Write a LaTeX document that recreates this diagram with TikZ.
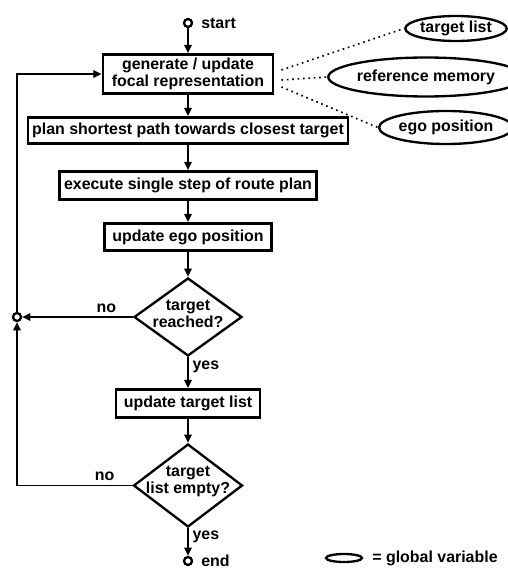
\documentclass[tikz,border=0pt]{standalone}
\usepackage{fontspec}
\setmainfont{Liberation Sans}
\usetikzlibrary{arrows.meta,positioning,shapes.geometric,calc}

\newlength{\pxu}
\setlength{\pxu}{0.03cm}
\newcommand{\flowfont}{\fontsize{13.6}{14.8}\selectfont\bfseries}

\tikzset{
    proc/.style={draw, line width=2.5pt, inner sep=0pt, align=center, font=\flowfont},
    decide/.style={draw, diamond, line width=2pt, inner sep=0pt},
    dtext/.style={font=\flowfont, align=center},
    glob/.style={draw, ellipse, line width=2pt, inner sep=0pt, font=\flowfont},
    term/.style={draw, circle, line width=2pt, inner sep=0pt, minimum size=8\pxu},
    lbl/.style={font=\flowfont},
    flow/.style={line width=1.2pt, -{Triangle[length=7pt,width=6.5pt]}},
    dots/.style={line width=1.4pt, dash pattern=on 1.4pt off 3.2pt}
}

\begin{document}
\begin{tikzpicture}[x=\pxu, y=-\pxu]
    \useasboundingbox (0,0) rectangle (507,571);

    % Main column
    \node[term, label={[lbl, label distance=4\pxu]right:start}] (start) at (188,23) {};
    \node[proc, minimum width=170\pxu, minimum height=39\pxu] (focal) at (188,74)
        {generate / update\\focal representation};
    \node[proc, minimum width=320\pxu, minimum height=26\pxu] (plan) at (188,130.5)
        {plan shortest path towards closest target};
    \node[proc, minimum width=257\pxu, minimum height=28\pxu] (exec) at (188,185.5)
        {execute single step of route plan};
    \node[proc, minimum width=167\pxu, minimum height=27\pxu] (egoupd) at (188,237)
        {update ego position};
    \node[decide, minimum width=108\pxu, minimum height=78\pxu,
        label={[dtext, yshift=3\pxu]center:{target\\reached?}}] (reached) at (188,317) {};
    \node[proc, minimum width=144\pxu, minimum height=28\pxu] (tlupd) at (188,403.5)
        {update target list};
    \node[decide, minimum width=109\pxu, minimum height=83\pxu,
        label={[dtext, yshift=4\pxu]center:{target\\list empty?}}] (empty) at (188,485.5) {};
    \node[term, label={[lbl, label distance=4\pxu]right:end}] (stop) at (188,561) {};

    % Loop junction
    \node[term] (junc) at (17,317) {};

    % Global variables
    \node[glob, minimum width=97\pxu, minimum height=25\pxu] (tlist) at (456,28.5) {target list};
    \node[glob, minimum width=156\pxu, minimum height=39\pxu] (refmem) at (426,77) {reference memory};
    \node[glob, minimum width=116\pxu, minimum height=33\pxu] (egopos) at (446,127.5) {ego position};

    % Legend
    \node[glob, minimum width=36\pxu, minimum height=8\pxu] (gvar) at (344,558) {};
    \node[lbl, right=5\pxu of gvar] (gvartxt) {= global variable};

    % Flow
    \draw[flow] (start) -- (focal);
    \draw[flow] (focal) -- (plan);
    \draw[flow] (plan) -- (exec);
    \draw[flow] (exec) -- (egoupd);
    \draw[flow] (egoupd) -- (reached);
    \draw[flow] (reached) -- node[lbl, right, pos=0.3] {yes} (tlupd);
    \draw[flow] (tlupd) -- (empty);
    \draw[flow] (empty) -- node[lbl, right, pos=0.3] {yes} (stop);

    % Back to start of loop
    \draw[flow] (reached) -- node[lbl, above, pos=0.24] {no} (junc);
    \draw[flow] (empty.west) -| node[lbl, above, pos=0.12] {no} (junc.south);
    \draw[flow] (junc.north) |- (focal.west);

    % Links to global variables
    \draw[dots] ([shift={(7,-4)}]focal.east) -- (tlist.west);
    \draw[dots] ([shift={(7,6)}]focal.east) -- (refmem.west);
    \draw[dots] ([shift={(7,13)}]focal.east) -- (egopos.west);
\end{tikzpicture}
\end{document}
